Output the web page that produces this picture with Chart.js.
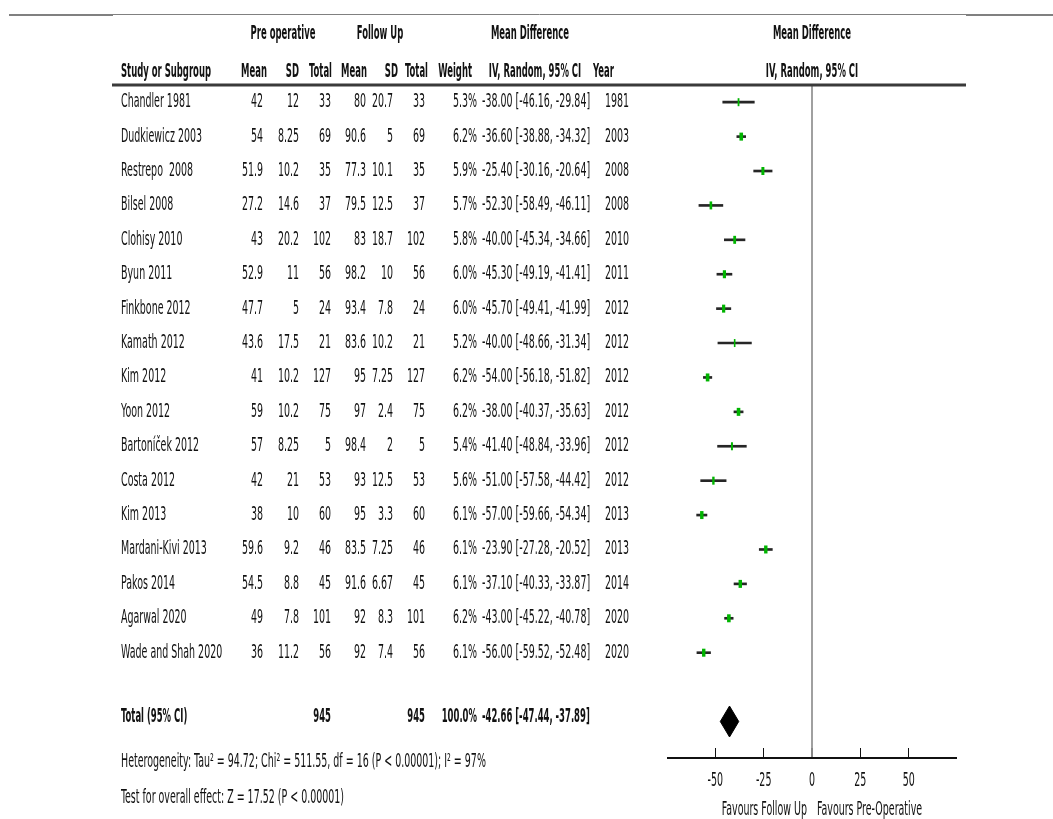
<!DOCTYPE html>
<html>
<head>
<meta charset="utf-8">
<script src="https://cdn.jsdelivr.net/npm/chart.js@4.4.1/dist/chart.umd.min.js"></script>
<style>
  html, body { margin: 0; padding: 0; background: #fff; }
  #wrap { width: 1053px; height: 819px; position: relative; }
</style>
</head>
<body>
<div id="wrap"><canvas id="forest"></canvas></div>
<script>
const studies = ["Chandler 1981", "Dudkiewicz 2003", "Restrepo  2008", "Bilsel 2008", "Clohisy 2010",
  "Byun 2011", "Finkbone 2012", "Kamath 2012", "Kim 2012", "Yoon 2012", "Bartoníček 2012",
  "Costa 2012", "Kim 2013", "Mardani-Kivi 2013", "Pakos 2014", "Agarwal 2020", "Wade and Shah 2020"];
const preMean = [42, 54, 51.9, 27.2, 43, 52.9, 47.7, 43.6, 41, 59, 57, 42, 38, 59.6, 54.5, 49, 36];
const preSD = [12, 8.25, 10.2, 14.6, 20.2, 11, 5, 17.5, 10.2, 10.2, 8.25, 21, 10, 9.2, 8.8, 7.8, 11.2];
const preN = [33, 69, 35, 37, 102, 56, 24, 21, 127, 75, 5, 53, 60, 46, 45, 101, 56];
const fuMean = [80, 90.6, 77.3, 79.5, 83, 98.2, 93.4, 83.6, 95, 97, 98.4, 93, 95, 83.5, 91.6, 92, 92];
const fuSD = [20.7, 5, 10.1, 12.5, 18.7, 10, 7.8, 10.2, 7.25, 2.4, 2, 12.5, 3.3, 7.25, 6.67, 8.3, 7.4];
const fuN = [33, 69, 35, 37, 102, 56, 24, 21, 127, 75, 5, 53, 60, 46, 45, 101, 56];
const weight = [5.3, 6.2, 5.9, 5.7, 5.8, 6.0, 6.0, 5.2, 6.2, 6.2, 5.4, 5.6, 6.1, 6.1, 6.1, 6.2, 6.1];
const md = [-38.00, -36.60, -25.40, -52.30, -40.00, -45.30, -45.70, -40.00, -54.00, -38.00, -41.40, -51.00, -57.00, -23.90, -37.10, -43.00, -56.00];
const ciLow = [-46.16, -38.88, -30.16, -58.49, -45.34, -49.19, -49.41, -48.66, -56.18, -40.37, -48.84, -57.58, -59.66, -27.28, -40.33, -45.22, -59.52];
const ciHigh = [-29.84, -34.32, -20.64, -46.11, -34.66, -41.41, -41.99, -31.34, -51.82, -35.63, -33.96, -44.42, -54.34, -20.52, -33.87, -40.78, -52.48];
const years = [1981, 2003, 2008, 2008, 2010, 2011, 2012, 2012, 2012, 2012, 2012, 2012, 2013, 2013, 2014, 2020, 2020];

const totalN = [945, 945];
const totalWeight = 100.0;
const totalMD = [-42.66, -47.44, -37.89];
const totalRow = 18;
const tickVals = [-50, -25, 0, 25, 50];

const heterogeneity = "Heterogeneity: Tau\u00b2 = 94.72; Chi\u00b2 = 511.55, df = 16 (P < 0.00001); I\u00b2 = 97%";
const overall = "Test for overall effect: Z = 17.52 (P < 0.00001)";

const FAMILY = "'Liberation Sans Narrow', 'Arial Narrow', 'DejaVu Sans Condensed', 'Liberation Sans', sans-serif";
const SIZE = 19;
Chart.defaults.font.family = FAMILY;

const fmt = v => v.toFixed(2);
const ciText = (m, l, h) => fmt(m) + " [" + fmt(l) + ", " + fmt(h) + "]";

// text is squeezed sideways like the source picture
function put(ctx, s, px, py, align, bold, sx) {
  ctx.save();
  ctx.font = (bold ? "bold " : "") + SIZE + "px " + FAMILY;
  ctx.translate(px, py);
  ctx.scale(sx, 1);
  ctx.textAlign = align;
  ctx.textBaseline = "middle";
  ctx.fillStyle = "#111";
  ctx.fillText(s, 0, 0);
  ctx.restore();
}

const tablePlugin = {
  id: "tablePlugin",
  afterDraw(chart) {
    const ctx = chart.ctx;
    const xs = chart.scales.x, ys = chart.scales.y, area = chart.chartArea;

    ctx.font = SIZE + "px " + FAMILY;
    const sx = 70 / ctx.measureText("Chandler 1981").width;
    ctx.font = "bold " + SIZE + "px " + FAMILY;
    const sxb = 90 / ctx.measureText("Study or Subgroup").width;

    // rules
    ctx.save();
    ctx.strokeStyle = "#808080";
    ctx.lineWidth = 1;
    ctx.beginPath(); ctx.moveTo(113, 14.5); ctx.lineTo(966, 14.5); ctx.stroke();
    ctx.lineWidth = 2;
    ctx.beginPath(); ctx.moveTo(9, 15); ctx.lineTo(113, 15); ctx.stroke();
    ctx.beginPath(); ctx.moveTo(966, 15); ctx.lineTo(1053, 15); ctx.stroke();
    ctx.strokeStyle = "#3a3a3a";
    ctx.lineWidth = 3;
    ctx.beginPath(); ctx.moveTo(112, area.top); ctx.lineTo(966, area.top); ctx.stroke();
    // horizontal axis line under the tick marks
    const axisY = xs.top + xs.options.grid.tickLength;
    ctx.strokeStyle = "#111";
    ctx.lineWidth = 2;
    ctx.beginPath(); ctx.moveTo(area.left, axisY); ctx.lineTo(area.right, axisY); ctx.stroke();
    ctx.restore();

    // tick labels of the x scale
    xs.ticks.forEach(t => {
      put(ctx, String(t.value), xs.getPixelForValue(t.value), axisY + 23, "center", false, sx);
    });

    // headers
    put(ctx, "Pre operative", 283, 34, "center", true, sxb);
    put(ctx, "Follow Up", 380, 34, "center", true, sxb);
    put(ctx, "Mean Difference", 530, 34, "center", true, sxb);
    put(ctx, "Mean Difference", xs.getPixelForValue(0), 34, "center", true, sxb);
    put(ctx, "Study or Subgroup", 121, 72, "left", true, sxb);
    put(ctx, "Mean", 267, 72, "right", true, sxb);
    put(ctx, "SD", 299, 72, "right", true, sxb);
    put(ctx, "Total", 332, 72, "right", true, sxb);
    put(ctx, "Mean", 367, 72, "right", true, sxb);
    put(ctx, "SD", 398, 72, "right", true, sxb);
    put(ctx, "Total", 428, 72, "right", true, sxb);
    put(ctx, "Weight", 472, 72, "right", true, sxb);
    put(ctx, "IV, Random, 95% CI", 535, 72, "center", true, sxb);
    put(ctx, "Year", 593, 72, "left", true, sxb);
    put(ctx, "IV, Random, 95% CI", xs.getPixelForValue(0), 72, "center", true, sxb);

    // study rows
    studies.forEach((s, i) => {
      const py = ys.getPixelForValue(i);
      put(ctx, s, 121, py, "left", false, sx);
      put(ctx, String(preMean[i]), 263, py, "right", false, sx);
      put(ctx, String(preSD[i]), 299, py, "right", false, sx);
      put(ctx, String(preN[i]), 331, py, "right", false, sx);
      put(ctx, String(fuMean[i]), 366, py, "right", false, sx);
      put(ctx, String(fuSD[i]), 393, py, "right", false, sx);
      put(ctx, String(fuN[i]), 425, py, "right", false, sx);
      put(ctx, weight[i].toFixed(1) + "%", 477, py, "right", false, sx);
      put(ctx, ciText(md[i], ciLow[i], ciHigh[i]), 482, py, "left", false, sx);
      put(ctx, String(years[i]), 605, py, "left", false, sx);
    });

    // total row
    const ty = ys.getPixelForValue(totalRow) - 4;
    put(ctx, "Total (95% CI)", 121, ty, "left", true, sxb);
    put(ctx, String(totalN[0]), 331, ty, "right", true, sxb);
    put(ctx, String(totalN[1]), 425, ty, "right", true, sxb);
    put(ctx, totalWeight.toFixed(1) + "%", 477, ty, "right", true, sxb);
    put(ctx, ciText(totalMD[0], totalMD[1], totalMD[2]), 482, ty, "left", true, sxb);

    put(ctx, heterogeneity, 121, 762, "left", false, sx);
    put(ctx, overall, 121, 798, "left", false, sx);

    const x0 = xs.getPixelForValue(0);
    put(ctx, "Favours Follow Up", x0 - 5, 810, "right", false, sx);
    put(ctx, "Favours Pre-Operative", x0 + 5, 810, "left", false, sx);
  }
};

new Chart(document.getElementById("forest"), {
  type: "bar",
  data: {
    datasets: [
      {
        type: "line",
        showLine: false,
        data: md.map((m, i) => ({ x: m, y: i })),
        pointStyle: "line",
        pointRotation: 90,
        pointRadius: 4,
        pointBorderColor: "#00b400",
        pointBackgroundColor: "#00b400",
        pointBorderWidth: weight.map(w => (w - 4.4) * 2)
      },
      {
        type: "bar",
        indexAxis: "y",
        data: studies.map((s, i) => ({ y: i, x: [ciLow[i], ciHigh[i]] })),
        backgroundColor: "#262626",
        barThickness: 2,
        borderWidth: 0
      },
      {
        type: "line",
        data: [
          { x: totalMD[1], y: totalRow },
          { x: totalMD[0], y: totalRow - 0.45 },
          { x: totalMD[2], y: totalRow },
          { x: totalMD[0], y: totalRow + 0.45 },
          { x: totalMD[1], y: totalRow }
        ],
        fill: "shape",
        backgroundColor: "#000",
        borderColor: "#000",
        borderWidth: 1,
        pointRadius: 0,
        tension: 0
      }
    ]
  },
  options: {
    responsive: true,
    maintainAspectRatio: false,
    animation: false,
    events: [],
    layout: {
      padding: { left: 667, right: 96, top: 85, bottom: 61 }
    },
    plugins: {
      legend: { display: false },
      tooltip: { enabled: false }
    },
    scales: {
      x: {
        type: "linear",
        min: -75,
        max: 75,
        offset: false,
        afterBuildTicks: scale => { scale.ticks = tickVals.map(v => ({ value: v })); },
        border: { display: false },
        grid: {
          offset: false,
          drawOnChartArea: true,
          color: c => (c.tick && c.tick.value === 0 ? "#a0a0a0" : "rgba(0,0,0,0)"),
          lineWidth: c => (c.tick && c.tick.value === 0 ? 2 : 1),
          tickColor: "#111",
          tickWidth: 1,
          tickLength: 10
        },
        ticks: { display: false }
      },
      y: {
        type: "linear",
        display: false,
        reverse: true,
        min: -0.5,
        max: 18.77,
        offset: false,
        grid: { offset: false }
      }
    }
  },
  plugins: [tablePlugin]
});
</script>
</body>
</html>
